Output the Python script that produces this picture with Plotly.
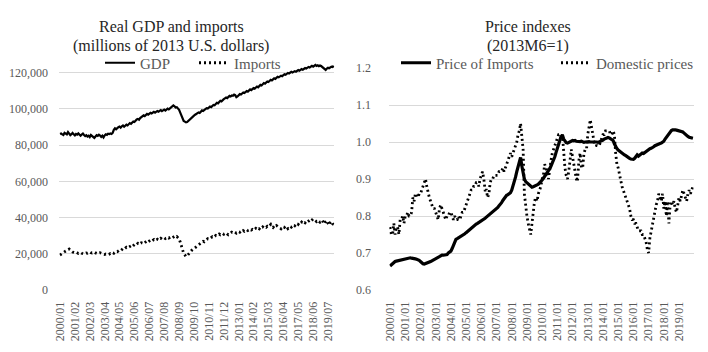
import plotly.graph_objects as go

# ---------------- data ----------------
months = [f"{y}/{m:02d}" for y in range(2000, 2020) for m in range(1, 13)]
left_tick_labels = months[::13]
right_tick_labels = months[::12]

gdp_thousands = [
    86.2, 86.5, 86.0, 85.6, 86.8, 86.4, 86.0, 87.2, 86.6, 85.5, 86.1, 86.8,
    86.0, 85.4, 86.2, 85.8, 86.5, 85.6, 85.2, 85.9, 86.4, 85.6, 85.0, 85.5,
    84.8, 85.2, 84.5, 85.6, 84.9, 84.2, 84.0, 84.8, 85.5, 85.1, 85.8, 85.3,
    84.6, 85.2, 84.3, 85.4, 86.0, 85.7, 86.3, 86.1, 86.5, 86.2, 86.8, 88.5,
    89.3, 88.8, 89.6, 89.9, 90.3, 89.7, 90.4, 90.9, 90.2, 90.8, 91.3, 90.9,
    91.5, 92.2, 91.8, 92.7, 93.1, 92.8, 93.6, 94.2, 94.5, 94.1, 95.0, 95.5,
    95.9, 96.5, 96.1, 96.8, 97.3, 96.9, 97.6, 97.9, 97.5, 98.1, 98.4, 98.0,
    98.6, 98.9, 98.5, 99.2, 99.4, 98.8, 99.3, 99.6, 99.1, 99.5, 100.2, 99.8,
    100.5, 101.2, 101.8, 102.0, 101.5, 100.8, 101.0, 100.2, 99.5, 98.0, 96.3, 94.5,
    93.4, 93.0, 92.6, 92.8, 93.3, 93.9, 94.6, 95.2, 95.7, 96.3, 96.8, 97.2,
    97.6, 98.1, 97.8, 98.6, 99.2, 98.9, 99.6, 100.1, 100.4, 100.2, 100.9, 101.3,
    101.0, 101.6, 102.2, 102.0, 102.8, 103.4, 103.1, 103.9, 104.5, 104.2, 105.0, 105.4,
    105.9, 106.3, 106.0, 106.8, 107.2, 106.9, 107.5, 107.3, 107.9, 107.6, 106.5, 106.9,
    107.6, 108.2, 108.0, 108.7, 109.1, 108.8, 109.4, 109.9, 109.6, 110.3, 110.8, 110.4,
    111.0, 111.5, 111.2, 111.9, 112.4, 112.0, 112.7, 113.3, 113.0, 113.8, 114.3, 114.0,
    114.6, 115.2, 114.9, 115.6, 116.1, 115.8, 116.4, 116.9, 116.6, 117.3, 117.8, 117.5,
    118.0, 118.4, 118.1, 118.7, 119.2, 118.9, 119.5, 119.9, 119.6, 120.1, 120.5, 120.2,
    120.6, 120.9, 120.6, 121.2, 121.5, 121.1, 121.6, 122.0, 121.7, 122.2, 122.6, 122.3,
    122.8, 123.2, 122.9, 123.5, 123.8, 123.4, 123.9, 124.3, 123.8, 124.1, 123.6, 124.0,
    123.7, 123.2, 122.6, 122.0, 121.6, 122.3, 122.8, 122.5, 123.1, 123.4, 123.2, 123.8,
]

imports_thousands = [
    19.3, 19.8, 20.5, 21.0, 21.2, 21.5, 21.8, 22.3, 22.6, 22.0, 21.4, 21.0,
    20.8, 20.6, 20.9, 20.5, 20.2, 20.4, 20.7, 20.3, 20.0, 19.9, 20.2, 20.5,
    20.3, 20.8, 21.0, 20.6, 20.4, 20.7, 20.9, 20.5, 20.2, 20.0, 20.4, 20.6,
    20.3, 20.1, 19.8, 19.6, 19.9, 19.7, 19.5, 19.8, 20.2, 20.0, 20.6, 20.3,
    20.9, 21.3, 21.1, 21.6, 22.0, 21.7, 22.4, 22.9, 22.5, 23.0, 23.6, 23.2,
    23.5, 24.0, 24.4, 23.8, 24.6, 25.1, 24.7, 25.3, 25.8, 25.2, 25.6, 26.1,
    25.9, 26.5, 26.1, 26.8, 27.2, 26.6, 27.0, 27.5, 26.9, 27.4, 27.8, 27.2,
    27.6, 28.0, 27.5, 28.3, 28.6, 28.1, 28.5, 28.9, 28.4, 28.8, 29.2, 28.7,
    29.0, 29.4, 28.8, 29.3, 29.6, 29.1, 29.5, 28.9, 28.2, 26.5, 24.3, 21.5,
    20.2, 19.4, 18.5, 18.9, 19.8, 20.5, 21.3, 21.9, 22.4, 22.9, 23.5, 24.0,
    24.6, 25.0, 25.5, 26.0, 26.4, 26.9, 26.6, 27.3, 27.8, 28.3, 28.0, 28.6,
    28.9, 29.4, 29.0, 29.7, 30.1, 29.8, 30.4, 30.9, 30.5, 31.0, 31.3, 30.8,
    31.2, 31.6, 31.0, 30.5, 30.9, 31.5, 32.0, 31.7, 32.2, 31.8, 31.4, 31.9,
    32.3, 31.9, 32.5, 32.1, 32.8, 32.4, 32.9, 33.3, 32.8, 33.2, 33.6, 33.1,
    33.5, 33.0, 33.7, 34.1, 33.6, 34.3, 33.8, 34.6, 34.2, 34.9, 34.4, 35.0,
    34.6, 35.2, 34.8, 35.5, 36.2, 35.0, 34.5, 35.3, 34.8, 35.6, 35.1, 34.6,
    34.2, 33.8, 34.5, 35.1, 34.6, 35.4, 34.9, 33.9, 34.4, 35.2, 34.7, 35.6,
    36.0, 35.5, 36.4, 36.9, 36.3, 37.2, 36.7, 37.5, 36.9, 37.6, 37.1, 38.0,
    37.5, 38.2, 38.6, 38.0, 38.9, 39.3, 38.7, 38.2, 37.8, 38.5, 38.1, 37.4,
    37.9, 38.6, 37.2, 36.5, 37.8, 38.4, 36.9, 35.8, 37.3, 37.9, 36.6, 36.2,
]

price_of_imports = [
    0.665, 0.668, 0.672, 0.675, 0.677, 0.678, 0.679, 0.680, 0.680, 0.682, 0.683, 0.684,
    0.685, 0.686, 0.686, 0.687, 0.687, 0.686, 0.686, 0.685, 0.684, 0.683, 0.682, 0.680,
    0.677, 0.673, 0.671, 0.670, 0.671, 0.672, 0.673, 0.675, 0.677, 0.679, 0.681, 0.684,
    0.684, 0.686, 0.689, 0.692, 0.693, 0.694, 0.694, 0.695, 0.695, 0.696, 0.700, 0.703,
    0.705, 0.712, 0.722, 0.732, 0.737, 0.739, 0.741, 0.743, 0.744, 0.746, 0.748, 0.752,
    0.755, 0.758, 0.762, 0.765, 0.767, 0.770, 0.773, 0.776, 0.778, 0.780, 0.782, 0.784,
    0.786, 0.789, 0.791, 0.794, 0.797, 0.800, 0.802, 0.806, 0.809, 0.812, 0.815, 0.817,
    0.819, 0.823, 0.828, 0.831, 0.836, 0.842, 0.848, 0.853, 0.856, 0.858, 0.860, 0.863,
    0.870, 0.880, 0.892, 0.905, 0.920, 0.935, 0.950, 0.958, 0.935, 0.910, 0.900, 0.893,
    0.890, 0.885, 0.882, 0.880, 0.878, 0.879, 0.880, 0.882, 0.884, 0.886, 0.889, 0.893,
    0.897, 0.902, 0.907, 0.911, 0.916, 0.922, 0.928, 0.935, 0.942, 0.950, 0.960, 0.972,
    0.985, 0.995, 1.005, 1.015, 1.019, 1.008, 1.001, 0.998, 0.997, 0.999, 1.002, 1.004,
    1.004, 1.003, 1.004, 1.002, 1.001, 1.000, 1.001, 1.002, 1.000, 0.999, 1.000, 1.001,
    1.000, 1.001, 1.000, 0.999, 1.000, 1.000, 1.001, 1.000, 0.999, 1.000, 1.001, 1.003,
    1.005, 1.008, 1.010, 1.011, 1.012, 1.011, 1.009, 1.007, 1.004, 0.995, 0.987, 0.982,
    0.978, 0.975, 0.972, 0.969, 0.966, 0.965, 0.963, 0.960, 0.958, 0.956, 0.954, 0.953,
    0.953, 0.956, 0.960, 0.965, 0.962, 0.964, 0.967, 0.970, 0.969, 0.972, 0.975, 0.978,
    0.980, 0.982, 0.983, 0.984, 0.987, 0.990, 0.992, 0.993, 0.994, 0.996, 0.997, 0.999,
    1.002, 1.008, 1.013, 1.019, 1.024, 1.028, 1.031, 1.033, 1.034, 1.033, 1.032, 1.031,
    1.031, 1.030, 1.029, 1.027, 1.024, 1.020, 1.016, 1.015, 1.013, 1.012, 1.011, 1.010,
]

domestic_prices = [
    0.77, 0.75, 0.75, 0.78, 0.75, 0.77, 0.77, 0.75, 0.79, 0.79, 0.80, 0.78,
    0.80, 0.80, 0.81, 0.80, 0.80, 0.81, 0.85, 0.84, 0.86, 0.86, 0.85, 0.86,
    0.86, 0.87, 0.88, 0.89, 0.90, 0.88, 0.86, 0.85, 0.84, 0.83, 0.82, 0.82,
    0.81, 0.80, 0.79, 0.82, 0.83, 0.82, 0.81, 0.80, 0.79, 0.80, 0.80, 0.81,
    0.81, 0.80, 0.79, 0.80, 0.79, 0.79, 0.80, 0.79, 0.80, 0.81, 0.81, 0.82,
    0.83, 0.84, 0.85, 0.86, 0.87, 0.87, 0.88, 0.88, 0.89, 0.89, 0.88, 0.90,
    0.91, 0.92, 0.90, 0.87, 0.87, 0.85, 0.86, 0.89, 0.90, 0.90, 0.91, 0.91,
    0.91, 0.91, 0.92, 0.92, 0.92, 0.93, 0.92, 0.93, 0.94, 0.95, 0.96, 0.97,
    0.96, 0.97, 0.98, 0.99, 1.00, 1.02, 1.03, 1.05, 1.01, 0.98, 0.86, 0.82,
    0.80, 0.78, 0.76, 0.75, 0.78, 0.81, 0.84, 0.85, 0.84, 0.86, 0.87, 0.88,
    0.90, 0.91, 0.94, 0.93, 0.92, 0.90, 0.93, 0.95, 0.97, 0.98, 0.99, 1.00,
    1.01, 1.02, 1.02, 1.01, 1.02, 0.97, 0.93, 0.91, 0.90, 0.92, 0.96, 0.98,
    0.96, 0.94, 0.92, 0.90, 0.90, 0.95, 0.97, 0.93, 0.93, 0.97, 0.98, 0.98,
    1.02, 1.04, 1.06, 1.04, 1.02, 1.00, 1.00, 0.99, 0.99, 0.99, 1.00, 1.01,
    1.02, 1.02, 1.03, 1.03, 1.03, 1.03, 1.02, 1.02, 1.03, 1.02, 0.97, 0.94,
    0.93, 0.91, 0.90, 0.88, 0.87, 0.86, 0.85, 0.84, 0.83, 0.82, 0.80, 0.79,
    0.79, 0.78, 0.78, 0.77, 0.76, 0.76, 0.76, 0.75, 0.75, 0.74, 0.73, 0.71,
    0.70, 0.74, 0.76, 0.78, 0.80, 0.82, 0.83, 0.84, 0.86, 0.85, 0.84, 0.86,
    0.82, 0.84, 0.80, 0.84, 0.78, 0.83, 0.84, 0.83, 0.84, 0.82, 0.81, 0.83,
    0.85, 0.84, 0.86, 0.87, 0.86, 0.85, 0.84, 0.86, 0.87, 0.86, 0.87, 0.88,
]

gdp = [v * 1000 for v in gdp_thousands]
imports = [v * 1000 for v in imports_thousands]

left_y_ticks = [0, 20000, 40000, 60000, 80000, 100000, 120000]
right_y_ticks = [0.6, 0.7, 0.8, 0.9, 1.0, 1.1, 1.2]

# ---------------- styling ----------------
# the page body has an 8px margin, so the figure is 700x344 placed at (8, 8)
OFF = 8
W, H = 700, 344
SERIF = "Liberation Serif, Times New Roman, serif"
GRID = "#d9d9d9"
TICK = "#595959"
CLEAR = "rgba(0,0,0,0)"

def px_x(p):  # p = page pixel in the 708x352 window
    return (p - OFF) / W

def px_y(p):
    return 1 - (p - OFF) / H

DOT = "2px,3px"

fig = go.Figure()

fig.add_trace(go.Scatter(x=months, y=gdp, name="GDP", mode="lines",
                         line=dict(color="black", width=2.2),
                         xaxis="x", yaxis="y", legend="legend"))
fig.add_trace(go.Scatter(x=months, y=imports, name="Imports", mode="lines",
                         line=dict(color="black", width=2.8, dash=DOT),
                         xaxis="x", yaxis="y", legend="legend"))
fig.add_trace(go.Scatter(x=months, y=price_of_imports, name="Price of Imports", mode="lines",
                         line=dict(color="black", width=3.2),
                         xaxis="x2", yaxis="y2", legend="legend2"))
fig.add_trace(go.Scatter(x=months, y=domestic_prices, name="Domestic prices", mode="lines",
                         line=dict(color="black", width=2.8, dash=DOT),
                         xaxis="x2", yaxis="y2", legend="legend2"))

xaxis_common = dict(
    type="category", range=[-0.5, 239.5], showgrid=False, zeroline=False,
    showline=False, ticks="outside", ticklen=6, tickcolor=CLEAR, automargin=False,
    tickangle=-90, tickfont=dict(family=SERIF, size=12, color=TICK),
)
yaxis_common = dict(
    showgrid=True, gridcolor=GRID, gridwidth=1, zeroline=False, showline=False,
    ticks="outside", tickcolor=CLEAR, automargin=False,
    tickfont=dict(family=SERIF, size=12, color=TICK),
)

legend_common = dict(
    orientation="h", yanchor="middle", xanchor="left",
    font=dict(family=SERIF, size=15, color=TICK), bgcolor="rgba(0,0,0,0)",
    itemwidth=30, tracegroupgap=0, entrywidthmode="pixels",
)

title_font = dict(family=SERIF, size=16, color="#262626")

def title_line(text, xc, yc):
    return dict(text=text, x=px_x(xc), y=px_y(yc), xref="paper", yref="paper",
                xanchor="center", yanchor="middle", showarrow=False, font=title_font)

fig.update_layout(
    width=W, height=H,
    margin=dict(l=0, r=0, t=0, b=0, autoexpand=False),
    paper_bgcolor="white", plot_bgcolor="white",
    font=dict(family=SERIF, color="#262626"),
    xaxis=dict(xaxis_common, domain=[px_x(59.4), px_x(334.3)],
               tickvals=left_tick_labels, ticktext=left_tick_labels, anchor="y"),
    yaxis=dict(yaxis_common, domain=[px_y(290), px_y(61.9)], range=[0, 126000],
               tickvals=left_y_ticks, tickformat=",", anchor="x", ticklen=8),
    xaxis2=dict(xaxis_common, domain=[px_x(389.4), px_x(693.6)],
                tickvals=right_tick_labels, ticktext=right_tick_labels, anchor="y2"),
    yaxis2=dict(yaxis_common, domain=[px_y(290), px_y(68)], range=[0.6, 1.2],
                tickvals=right_y_ticks, tickformat=".1f", anchor="x2", ticklen=15),
    legend=dict(legend_common, x=px_x(100), y=px_y(63), entrywidth=49),
    legend2=dict(legend_common, x=px_x(396), y=px_y(63), entrywidth=115),
    showlegend=True,
    annotations=[
        title_line("Real GDP and imports", 171, 27),
        title_line("(millions of 2013 U.S. dollars)", 171, 46),
        title_line("Price indexes", 528, 27),
        title_line("(2013M6=1)", 528, 46),
    ],
)

fig.write_html("out.html")
